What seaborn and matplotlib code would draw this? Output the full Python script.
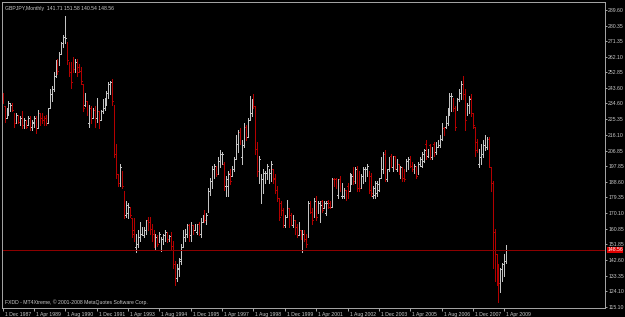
import numpy as np
import pandas as pd
import matplotlib
matplotlib.use("Agg")
import matplotlib.pyplot as plt
import matplotlib.transforms as mtransforms
from matplotlib import font_manager
import seaborn as sns

# ---------------- data (GBPJPY monthly, Dec 1987 .. May 2009) ----------------
OPEN = [
    240, 233, 226, 230, 233, 234, 229, 223, 227, 224,
    227, 222, 225, 222, 226, 221, 223, 226, 220, 229,
    226, 225, 226, 223, 232, 240, 243, 251, 258, 258,
    264, 270, 271, 270, 259, 256, 260, 254, 259, 256,
    254, 246, 234, 236, 223, 232, 226, 231, 226, 230,
    225, 230, 232, 236, 240, 241, 247, 233, 205, 193,
    188, 195, 183, 169, 170, 174, 167, 160, 150, 152,
    156, 158, 157, 160, 166, 165, 161, 158, 151, 156,
    154, 150, 153, 156, 158, 155, 157, 151, 140, 132,
    137, 142, 150, 156, 158, 163, 157, 163, 160, 159,
    164, 158, 165, 170, 165, 171, 183, 189, 194, 198,
    194, 200, 201, 199, 186, 186, 194, 192, 196, 202,
    211, 218, 203, 210, 221, 215, 225, 229, 237, 232,
    208, 195, 182, 185, 189, 192, 190, 191, 196, 191,
    184, 179, 176, 172, 163, 168, 173, 169, 163, 166,
    162, 157, 160, 150, 159, 157, 156, 176, 172, 168,
    178, 170, 167, 177, 173, 170, 177, 176, 174, 190,
    190, 181, 190, 180, 180, 184, 186, 183, 188, 195,
    189, 196, 193, 186, 189, 190, 193, 195, 192, 180,
    181, 182, 184, 191, 196, 205, 190, 196, 204, 197,
    204, 196, 199, 192, 197, 195, 196, 197, 203, 199,
    195, 198, 193, 199, 198, 201, 211, 204, 210, 203,
    211, 206, 209, 210, 214, 220, 221, 223, 229, 231,
    238, 232, 232, 237, 237, 248, 240, 229, 234, 238,
    229, 221, 212, 199, 203, 205, 210, 209, 214, 197,
    188, 159, 146, 131, 129, 133, 136, 141.71,
]
HIGH = [
    241, 233, 232, 236, 235, 235, 229, 229, 228, 227,
    230, 226, 225, 227, 227, 225, 227, 227, 231, 229,
    229, 227, 228, 232, 243, 245, 253, 260, 261, 265,
    271, 275, 286, 271, 259, 259, 262, 261, 261, 258,
    256, 246, 241, 236, 234, 233, 232, 233, 238, 230,
    231, 237, 238, 242, 247, 248, 249, 234, 211, 193,
    199, 195, 183, 177, 176, 174, 167, 167, 158, 160,
    165, 162, 162, 166, 168, 168, 164, 160, 158, 157,
    159, 156, 158, 160, 159, 157, 159, 154, 142, 140,
    144, 152, 160, 161, 164, 164, 165, 163, 164, 164,
    165, 167, 169, 172, 170, 185, 191, 198, 199, 198,
    203, 207, 206, 200, 192, 195, 196, 198, 203, 216,
    219, 220, 213, 223, 222, 226, 239, 237, 240, 233,
    212, 204, 193, 196, 195, 199, 196, 201, 196, 193,
    186, 179, 177, 173, 169, 178, 173, 170, 169, 166,
    164, 165, 160, 160, 160, 158, 177, 177, 173, 179,
    180, 177, 177, 178, 177, 177, 178, 177, 191, 191,
    191, 190, 192, 188, 185, 184, 188, 194, 193, 197,
    197, 198, 195, 193, 197, 197, 199, 195, 194, 186,
    189, 189, 191, 203, 206, 207, 196, 203, 205, 204,
    204, 202, 199, 198, 197, 196, 202, 203, 204, 200,
    199, 198, 200, 203, 206, 208, 213, 208, 211, 209,
    212, 212, 213, 216, 223, 221, 227, 232, 241, 241,
    238, 233, 238, 243, 248, 251, 243, 235, 239, 240,
    229, 221, 214, 208, 211, 213, 216, 215, 215, 197,
    189, 161, 146, 140, 138, 141, 146, 151.58,
]
LOW = [
    235, 224, 226, 228, 230, 230, 221, 223, 223, 222,
    220, 220, 220, 222, 219, 219, 221, 217, 220, 222,
    223, 222, 222, 223, 232, 236, 242, 250, 252, 257,
    264, 268, 270, 258, 251, 244, 253, 253, 251, 253,
    246, 230, 233, 228, 221, 223, 226, 221, 224, 220,
    225, 229, 231, 234, 238, 240, 234, 203, 191, 186,
    186, 185, 167, 168, 167, 168, 156, 154, 147, 150,
    154, 157, 156, 158, 160, 158, 154, 150, 149, 151,
    153, 148, 152, 154, 153, 154, 149, 138, 128, 130,
    133, 140, 150, 154, 156, 154, 154, 158, 160, 158,
    157, 156, 165, 165, 164, 171, 181, 185, 191, 192,
    193, 197, 199, 184, 180, 180, 187, 192, 195, 202,
    206, 211, 199, 209, 213, 215, 225, 227, 232, 205,
    192, 188, 176, 182, 188, 190, 188, 189, 188, 182,
    177, 166, 169, 162, 162, 168, 162, 163, 162, 158,
    156, 157, 155, 147, 154, 150, 156, 170, 164, 168,
    166, 170, 165, 171, 173, 169, 173, 173, 174, 186,
    185, 179, 183, 179, 179, 178, 179, 183, 187, 187,
    188, 183, 183, 185, 188, 189, 192, 182, 180, 179,
    179, 180, 183, 191, 194, 189, 189, 195, 197, 195,
    196, 195, 193, 191, 189, 189, 195, 196, 197, 195,
    194, 191, 193, 198, 197, 200, 202, 203, 202, 202,
    204, 205, 209, 209, 213, 216, 220, 222, 228, 230,
    230, 219, 231, 236, 237, 237, 219, 228, 229, 227,
    220, 204, 206, 197, 199, 203, 207, 208, 197, 183,
    138, 130, 128, 118, 124, 130, 133, 140.54,
]
CLOSE = [
    236, 226, 231, 235, 234, 231, 223, 228, 224, 226,
    222, 225, 221, 226, 221, 224, 226, 219, 229, 224,
    224, 223, 224, 231, 241, 244, 252, 258, 254, 264,
    270, 274, 273, 260, 253, 247, 255, 259, 253, 254,
    248, 232, 239, 230, 232, 225, 230, 223, 236, 222,
    230, 235, 237, 241, 246, 247, 236, 205, 193, 188,
    197, 186, 169, 175, 174, 169, 158, 156, 156, 158,
    163, 161, 161, 165, 162, 160, 156, 152, 156, 152,
    158, 155, 157, 159, 155, 156.5, 151, 140, 132, 138,
    143, 150, 158, 160, 163, 157, 163, 159, 163, 163,
    159, 165, 168, 166, 169, 183, 189, 196, 198, 193,
    201, 205, 205, 186, 190, 193, 189, 197, 202, 214,
    217, 212, 211, 221, 215, 224, 237, 235, 233, 208,
    195, 202, 190, 194, 194, 198, 194, 199, 190, 184,
    179, 168, 170, 164, 168, 177, 164, 165, 168, 159,
    158, 163, 156, 158, 155, 152, 176, 171, 166, 177,
    168, 176, 175, 172, 176, 176, 174, 173.5, 189, 187,
    186, 188, 184, 186, 184, 179, 180, 192, 192, 189,
    196, 185, 185, 192, 196, 196, 198, 184, 182, 185,
    188, 187, 190, 201, 204, 191, 195, 202, 198, 203,
    197, 201, 194, 197, 191, 190, 201, 202, 198, 196,
    198, 192, 199, 202, 205, 207, 204, 207, 203, 208,
    205, 211, 212, 215, 222, 217, 226, 231, 239, 239,
    232, 221, 237, 241, 246, 240, 225, 234, 237, 229,
    222, 207, 208, 206, 209, 212, 214, 214, 199, 188,
    159, 146, 131, 129, 137, 140, 141.71, 148.56,
]

PRICE_TICKS = [289.60, 280.35, 271.35, 262.10, 252.85, 243.60, 234.60, 225.35,
               216.10, 206.85, 197.85, 188.60, 179.35, 170.10, 160.85, 151.85,
               142.60, 133.35, 124.10, 115.10]
DATE_TICK_BARS = [0, 16, 32, 48, 64, 80, 96, 112, 128, 144, 160, 176, 192, 208, 224, 240, 256]
DATE_LABELS = ["1 Dec 1987", "1 Apr 1989", "1 Aug 1990", "1 Dec 1991", "1 Apr 1993",
               "1 Aug 1994", "1 Dec 1995", "1 Apr 1997", "1 Aug 1998", "1 Dec 1999",
               "1 Apr 2001", "1 Aug 2002", "1 Dec 2003", "1 Apr 2005", "1 Aug 2006",
               "1 Dec 2007", "1 Apr 2009"]
BID = 148.56
HEADER = "GBPJPY,Monthly  141.71 151.58 140.54 148.56"
FOOTER = "FXDD - MT4Xtreme, \u00a9 2001-2008 MetaQuotes Software Corp."

# ---------------- style ----------------
UP_COLOR = "#c4c4c4"
DOWN_COLOR = "#b40000"
FG = "#c8c8c8"
sns.set_style("dark", {"axes.facecolor": "black", "figure.facecolor": "black",
                       "axes.edgecolor": "#a8a8a8", "axes.grid": False})
names = {f.name for f in font_manager.fontManager.ttflist}
fam = "Liberation Sans Narrow" if "Liberation Sans Narrow" in names else "Liberation Sans"
plt.rcParams["font.family"] = [fam, "DejaVu Sans"]
FS = 4.3 if fam.endswith("Narrow") else 3.7

W, H = 625, 317
fig = plt.figure(figsize=(W / 100, H / 100), dpi=100)
fig.patch.set_facecolor("black")
AX_W = 603
ax = fig.add_axes([2 / W, 1 - 308 / H, AX_W / W, 306 / H])
ax.set_facecolor("black")

rows = []
for i in range(len(OPEN)):
    d = "up" if CLOSE[i] >= OPEN[i] else "down"
    rows += [(i, LOW[i], f"v{i}", d), (i, HIGH[i], f"v{i}", d),
             (i - 0.3, OPEN[i], f"o{i}", d), (i, OPEN[i], f"o{i}", d),
             (i, CLOSE[i], f"c{i}", d), (i + 0.3, CLOSE[i], f"c{i}", d)]
df = pd.DataFrame(rows, columns=["x", "price", "unit", "dir"])

sns.lineplot(data=df, x="x", y="price", units="unit", estimator=None, hue="dir",
             palette={"up": UP_COLOR, "down": DOWN_COLOR}, legend=False, sort=False,
             lw=0.72, antialiased=False, ax=ax)

ax.axhline(BID, color="#8c0000", lw=0.68, antialiased=False)

px_per_bar = 1.96
x0 = -0.3
ax.set_xlim(x0, x0 + AX_W / px_per_bar)
ax.set_ylim(114.3, 294.3)
ax.set_xlabel("")
ax.set_ylabel("")

for s in ax.spines.values():
    s.set_color("#a8a8a8")
    s.set_linewidth(0.7)

ax.yaxis.tick_right()
ax.set_yticks(PRICE_TICKS)
ax.set_yticklabels([f"{v:.2f}" for v in PRICE_TICKS])
ax.tick_params(axis="y", direction="out", length=1.5, width=0.7, colors="#a8a8a8",
               labelcolor=FG, labelsize=FS, pad=0.8, right=True, left=False)
ax.set_xticks(DATE_TICK_BARS)
ax.set_xticklabels(DATE_LABELS)
ax.tick_params(axis="x", direction="out", length=2, width=0.7, colors="#a8a8a8",
               labelcolor=FG, labelsize=FS, pad=0.8, bottom=True)
shift = mtransforms.ScaledTranslation(2 / 100, 0, fig.dpi_scale_trans)
for lab in ax.get_xticklabels():
    lab.set_ha("left")
    lab.set_transform(lab.get_transform() + shift)

# bid price box
ax.annotate(f"{BID:.2f}", xy=(1.0, BID), xycoords=("axes fraction", "data"),
            xytext=(1.6, 0), textcoords="offset points", ha="left", va="center",
            fontsize=FS, color="white",
            bbox=dict(boxstyle="square,pad=0.1", fc="#e00000", ec="none"))

ax.text(3 / AX_W, 1 - 4 / 306, HEADER, transform=ax.transAxes, ha="left", va="top",
        fontsize=FS, color=FG)
ax.text(3 / AX_W, 3 / 306, FOOTER, transform=ax.transAxes, ha="left", va="bottom",
        fontsize=FS, color=FG)

fig.savefig("out.png", dpi=100, facecolor="black")
